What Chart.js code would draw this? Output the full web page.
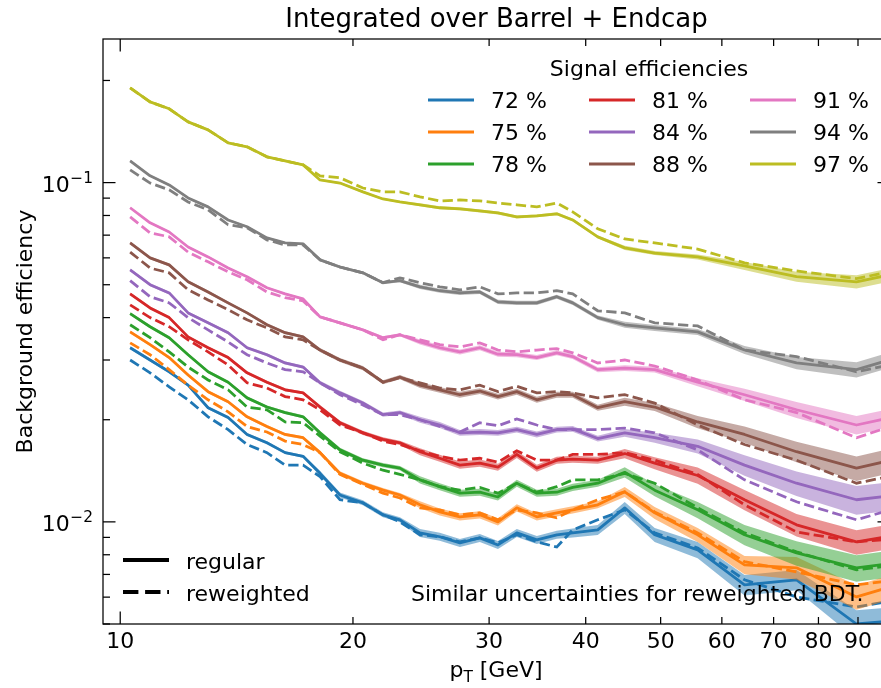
<!DOCTYPE html>
<html>
<head>
<meta charset="utf-8">
<script src="https://cdn.jsdelivr.net/npm/chart.js@4.4.1/dist/chart.umd.min.js"></script>
<style>
  html, body { margin: 0; padding: 0; overflow: hidden; background: #fff; }
  canvas { display: block; }
</style>
</head>
<body>
<canvas id="effChart" width="896" height="688"></canvas>
<script>
// pT bin centres [GeV]
const ptBins = [10.3, 10.93, 11.57, 12.24, 12.99, 13.79, 14.59, 15.48, 16.34, 17.24,
                18.13, 19.24, 20.6, 21.87, 23.0, 24.42, 25.9, 27.5, 29.18, 30.8,
                32.58, 34.58, 36.7, 38.48, 41.46, 44.93, 49.12, 55.83, 64.19, 74.94, 89.6, 103.3];

const effLabels = ['72 %', '75 %', '78 %', '81 %', '84 %', '88 %', '91 %', '94 %', '97 %'];
const effColors = ['#1f77b4', '#ff7f0e', '#2ca02c', '#d62728', '#9467bd', '#8c564b', '#e377c2', '#7f7f7f', '#bcbd22'];

// background efficiency, regular BDT (solid) and reweighted BDT (dashed)
const reg72 = [0.0326, 0.0300, 0.0277, 0.0253, 0.0217, 0.0203, 0.0181, 0.0171, 0.0160, 0.0156, 0.0139, 0.0120, 0.01138, 0.01049, 0.01014, 0.00928, 0.00904, 0.00867, 0.00897, 0.00855, 0.00928, 0.00885, 0.00916, 0.00928, 0.00947, 0.0110, 0.00916, 0.00827, 0.00652, 0.00675, 0.00500, 0.00514];
const rew72 = [0.0300, 0.0275, 0.0250, 0.0229, 0.0204, 0.0187, 0.0169, 0.0160, 0.0147, 0.0147, 0.0136, 0.01162, 0.01138, 0.01049, 0.0100, 0.00916, 0.00904, 0.00873, 0.00897, 0.00867, 0.00916, 0.00873, 0.00843, 0.00947, 0.01014, 0.01085, 0.00928, 0.00838, 0.00675, 0.00601, 0.00561, 0.00593];
const reg75 = [0.0363, 0.0333, 0.0305, 0.0271, 0.0242, 0.0226, 0.0204, 0.0191, 0.0181, 0.0177, 0.0160, 0.0139, 0.0130, 0.0124, 0.0120, 0.01123, 0.0107, 0.01035, 0.01049, 0.0100, 0.0110, 0.01035, 0.01063, 0.01085, 0.01123, 0.01226, 0.01063, 0.00916, 0.00747, 0.00732, 0.00601, 0.00661];
const rew75 = [0.0337, 0.0311, 0.0281, 0.0253, 0.0229, 0.0211, 0.0191, 0.0184, 0.0173, 0.0169, 0.0160, 0.0138, 0.0129, 0.01215, 0.01176, 0.0110, 0.01085, 0.01049, 0.01063, 0.01014, 0.01085, 0.01063, 0.01028, 0.01085, 0.01162, 0.01226, 0.0107, 0.00928, 0.00763, 0.00712, 0.00652, 0.00679];
const reg78 = [0.0411, 0.0376, 0.0349, 0.0311, 0.0277, 0.0258, 0.0232, 0.0218, 0.0210, 0.0204, 0.0183, 0.0163, 0.0152, 0.0147, 0.0144, 0.0133, 0.0127, 0.01215, 0.01223, 0.01184, 0.0130, 0.01215, 0.01223, 0.01264, 0.0130, 0.0140, 0.0124, 0.01085, 0.00916, 0.00810, 0.00732, 0.00763];
const rew78 = [0.0381, 0.0349, 0.0317, 0.0286, 0.0262, 0.0245, 0.0218, 0.0214, 0.0197, 0.0196, 0.0179, 0.0161, 0.0149, 0.0142, 0.0138, 0.0133, 0.0127, 0.0124, 0.01264, 0.01215, 0.0130, 0.01223, 0.0127, 0.0133, 0.0133, 0.0139, 0.0130, 0.0110, 0.00928, 0.00816, 0.00722, 0.00752];
const reg81 = [0.0470, 0.0427, 0.0400, 0.0351, 0.0326, 0.0305, 0.0275, 0.0258, 0.0245, 0.0240, 0.0218, 0.0196, 0.0183, 0.0175, 0.0171, 0.0161, 0.0154, 0.0147, 0.0149, 0.0145, 0.0158, 0.0144, 0.0152, 0.0153, 0.0152, 0.0159, 0.0149, 0.0137, 0.01162, 0.00980, 0.00873, 0.00922];
const rew81 = [0.0436, 0.0400, 0.0376, 0.0344, 0.0317, 0.0290, 0.0257, 0.0248, 0.0234, 0.0229, 0.0214, 0.0193, 0.0183, 0.0173, 0.0169, 0.0162, 0.0156, 0.0152, 0.0154, 0.0150, 0.0162, 0.0152, 0.0152, 0.0158, 0.0158, 0.0160, 0.0152, 0.0138, 0.01123, 0.00934, 0.00873, 0.00897];
const reg84 = [0.0553, 0.0500, 0.0473, 0.0413, 0.0386, 0.0361, 0.0326, 0.0311, 0.0294, 0.0286, 0.0257, 0.0240, 0.0224, 0.0207, 0.0210, 0.0200, 0.0193, 0.0183, 0.0184, 0.0183, 0.0187, 0.0181, 0.0187, 0.0188, 0.0176, 0.0183, 0.0177, 0.0167, 0.0147, 0.0130, 0.01162, 0.01207];
const rew84 = [0.0514, 0.0461, 0.0442, 0.0400, 0.0368, 0.0339, 0.0311, 0.0294, 0.0281, 0.0277, 0.0257, 0.0237, 0.0221, 0.0207, 0.0207, 0.0200, 0.0191, 0.0184, 0.0196, 0.0192, 0.0201, 0.0193, 0.0187, 0.0187, 0.0187, 0.0189, 0.0183, 0.0163, 0.0133, 0.01146, 0.01014, 0.01115];
const reg88 = [0.0664, 0.0600, 0.0572, 0.0510, 0.0476, 0.0442, 0.0413, 0.0381, 0.0361, 0.0351, 0.0321, 0.0300, 0.0284, 0.0258, 0.0267, 0.0253, 0.0245, 0.0237, 0.0243, 0.0234, 0.0242, 0.0229, 0.0237, 0.0237, 0.0217, 0.0226, 0.0218, 0.0197, 0.0181, 0.0161, 0.0144, 0.0155];
const rew88 = [0.0624, 0.0560, 0.0542, 0.0483, 0.0451, 0.0422, 0.0394, 0.0373, 0.0351, 0.0344, 0.0321, 0.0300, 0.0284, 0.0258, 0.0266, 0.0257, 0.0248, 0.0245, 0.0253, 0.0242, 0.0251, 0.0240, 0.0242, 0.0240, 0.0232, 0.0237, 0.0224, 0.0193, 0.0169, 0.0152, 0.0130, 0.0139];
const reg91 = [0.0843, 0.0761, 0.0715, 0.0646, 0.0604, 0.0560, 0.0528, 0.0490, 0.0470, 0.0454, 0.0402, 0.0386, 0.0368, 0.0349, 0.0356, 0.0339, 0.0326, 0.0317, 0.0326, 0.0312, 0.0311, 0.0305, 0.0315, 0.0307, 0.0281, 0.0284, 0.0281, 0.0258, 0.0237, 0.0214, 0.0193, 0.0207];
const rew91 = [0.0792, 0.0711, 0.0692, 0.0624, 0.0584, 0.0546, 0.0517, 0.0476, 0.0458, 0.0448, 0.0402, 0.0386, 0.0368, 0.0344, 0.0356, 0.0344, 0.0333, 0.0328, 0.0337, 0.0321, 0.0317, 0.0321, 0.0324, 0.0315, 0.0294, 0.0300, 0.0288, 0.0262, 0.0229, 0.0210, 0.0177, 0.0197];
const reg94 = [0.1159, 0.1047, 0.0984, 0.0901, 0.0848, 0.0776, 0.0741, 0.0687, 0.0664, 0.0660, 0.0592, 0.0564, 0.0542, 0.0507, 0.0514, 0.0493, 0.0480, 0.0473, 0.0476, 0.0445, 0.0442, 0.0442, 0.0461, 0.0442, 0.0400, 0.0381, 0.0373, 0.0363, 0.0321, 0.0294, 0.0281, 0.0309];
const rew94 = [0.1090, 0.0997, 0.0952, 0.0877, 0.0831, 0.0751, 0.0736, 0.0678, 0.0655, 0.0655, 0.0592, 0.0564, 0.0542, 0.0507, 0.0524, 0.0507, 0.0493, 0.0483, 0.0493, 0.0470, 0.0473, 0.0473, 0.0480, 0.0470, 0.0419, 0.0413, 0.0386, 0.0378, 0.0321, 0.0307, 0.0277, 0.0296];
const reg97 = [0.1902, 0.1729, 0.1650, 0.1510, 0.1430, 0.1310, 0.1275, 0.1191, 0.1159, 0.1128, 0.1018, 0.0997, 0.0939, 0.0895, 0.0877, 0.0860, 0.0843, 0.0837, 0.0825, 0.0814, 0.0792, 0.0798, 0.0809, 0.0776, 0.0692, 0.0642, 0.0620, 0.0604, 0.0568, 0.0528, 0.0510, 0.0546];
const rew97 = [0.1902, 0.1729, 0.1650, 0.1510, 0.1430, 0.1310, 0.1275, 0.1191, 0.1159, 0.1128, 0.1047, 0.1033, 0.0964, 0.0939, 0.0939, 0.0908, 0.0883, 0.0889, 0.0883, 0.0871, 0.0860, 0.0848, 0.0871, 0.0820, 0.0731, 0.0682, 0.0664, 0.0637, 0.0580, 0.0549, 0.0521, 0.0557];

// relative uncertainty of the regular BDT curves [%]
const err72 = [1.0, 1.0, 1.0, 1.0, 1.0, 1.0, 1.0, 1.0, 1.0, 1.0, 1.7, 1.7, 1.7, 1.7, 1.7, 2.7, 2.7, 2.7, 2.7, 2.7, 2.7, 2.7, 2.7, 3.1, 3.4, 4.1, 4.8, 5.5, 6.9, 6.9, 9.7, 9.7];
const err75 = [1.0, 1.0, 1.0, 1.0, 1.0, 1.0, 1.0, 1.0, 1.0, 1.0, 1.4, 1.4, 1.4, 1.4, 1.4, 2.4, 2.4, 2.4, 2.4, 2.4, 2.4, 2.4, 2.4, 2.4, 2.4, 3.4, 4.1, 4.8, 6.2, 7.6, 8.3, 8.3];
const err78 = [1.0, 1.0, 1.0, 1.0, 1.0, 1.0, 1.0, 1.0, 1.0, 1.0, 1.4, 1.4, 1.4, 1.4, 1.4, 2.4, 2.4, 2.4, 2.4, 2.4, 2.4, 2.4, 2.4, 2.4, 2.4, 3.4, 4.1, 5.5, 6.9, 8.3, 9.0, 9.0];
const err81 = [1.0, 1.0, 1.0, 1.0, 1.0, 1.0, 1.0, 1.0, 1.0, 1.0, 1.4, 1.4, 1.4, 1.4, 1.4, 2.4, 2.4, 2.4, 2.4, 2.4, 2.4, 2.4, 2.4, 2.4, 2.4, 3.1, 4.1, 5.5, 6.9, 7.6, 8.3, 8.3];
const err84 = [1.0, 1.0, 1.0, 1.0, 1.0, 1.0, 1.0, 1.0, 1.0, 1.0, 1.4, 1.4, 1.4, 1.4, 1.4, 2.0, 2.0, 2.0, 2.0, 2.0, 2.0, 2.0, 2.0, 2.0, 2.0, 2.7, 3.4, 4.8, 6.9, 8.3, 9.7, 9.7];
const err88 = [1.0, 1.0, 1.0, 1.0, 1.0, 1.0, 1.0, 1.0, 1.0, 1.0, 1.4, 1.4, 1.4, 1.4, 1.4, 2.0, 2.0, 2.0, 2.0, 2.0, 2.0, 2.0, 2.0, 2.0, 2.0, 2.7, 2.7, 4.1, 5.5, 6.9, 8.3, 8.3];
const err91 = [0.7, 0.7, 0.7, 0.7, 0.7, 0.7, 0.7, 0.7, 0.7, 0.7, 1.0, 1.0, 1.0, 1.0, 1.0, 1.7, 1.7, 1.7, 1.7, 1.7, 1.7, 1.7, 1.7, 1.7, 1.7, 2.0, 2.0, 2.7, 4.1, 5.5, 6.2, 6.2];
const err94 = [0.7, 0.7, 0.7, 0.7, 0.7, 0.7, 0.7, 0.7, 0.7, 0.7, 1.0, 1.0, 1.0, 1.0, 1.0, 1.4, 1.4, 1.4, 1.4, 1.4, 1.4, 1.4, 1.4, 1.4, 1.4, 2.0, 2.0, 2.0, 2.7, 4.1, 5.2, 5.2];
const err97 = [0.7, 0.7, 0.7, 0.7, 0.7, 0.7, 0.7, 0.7, 0.7, 0.7, 0.7, 0.7, 0.7, 0.7, 0.7, 1.0, 1.0, 1.0, 1.0, 1.0, 1.0, 1.0, 1.0, 1.0, 1.0, 1.4, 1.4, 1.7, 2.7, 3.4, 4.5, 4.5];

// axis ticks
const xTickVals = [10, 20, 30, 40, 50, 60, 70, 80, 90];
const xTickText = ['10', '20', '30', '40', '50', '60', '70', '80', '90'];
const yMajorVals = [0.01, 0.1];
const yMajorExp = ['\u22122', '\u22121'];

const X_MIN = 9.5, X_MAX = 99;
const Y_MIN = 0.005, Y_MAX = 0.265;

const FONT = '"DejaVu Sans", sans-serif';
const LW = 2.78;
const DASH = [10.3, 4.4];

const regular = [reg72, reg75, reg78, reg81, reg84, reg88, reg91, reg94, reg97];
const reweighted = [rew72, rew75, rew78, rew81, rew84, rew88, rew91, rew94, rew97];
const uncert = [err72, err75, err78, err81, err84, err88, err91, err94, err97];

function hexToRgba(hex, a) {
    const n = parseInt(hex.slice(1), 16);
    return `rgba(${(n >> 16) & 255}, ${(n >> 8) & 255}, ${n & 255}, ${a})`;
}

function toPoints(vals) {
    return ptBins.map((x, j) => ({ x: x, y: vals[j] }));
}

// build band + solid + dashed for each signal efficiency
const datasets = [];
regular.forEach((reg, k) => {
    const col = effColors[k];
    const err = uncert[k];
    const upIdx = datasets.length;
    datasets.push({
        data: toPoints(reg.map((v, j) => v * (1 + err[j] / 100))),
        borderColor: 'rgba(0,0,0,0)', borderWidth: 0, pointRadius: 0, fill: false
    });
    datasets.push({
        data: toPoints(reg.map((v, j) => v * (1 - err[j] / 100))),
        borderColor: 'rgba(0,0,0,0)', borderWidth: 0, pointRadius: 0,
        fill: upIdx, backgroundColor: hexToRgba(col, 0.5)
    });
    datasets.push({
        data: toPoints(reg),
        borderColor: col, borderWidth: LW, pointRadius: 0, fill: false,
        borderJoinStyle: 'round'
    });
    datasets.push({
        data: toPoints(reweighted[k]),
        borderColor: col, borderWidth: LW, pointRadius: 0, fill: false,
        borderDash: DASH
    });
});
// later datasets are drawn on top
datasets.forEach((d, i) => { d.order = -i; d.clip = 0; d.tension = 0; });

// frame, inward ticks, labels and legends
const decorPlugin = {
    id: 'decor',
    afterDraw(chart) {
        const ctx = chart.ctx;
        const a = chart.chartArea;
        const xs = chart.scales.x, ys = chart.scales.y;
        ctx.save();
        ctx.strokeStyle = '#000';
        ctx.fillStyle = '#000';
        ctx.lineWidth = 1.25;
        ctx.strokeRect(a.left, a.top, a.right - a.left, a.bottom - a.top);

        const seg = (x1, y1, x2, y2) => {
            ctx.beginPath(); ctx.moveTo(x1, y1); ctx.lineTo(x2, y2); ctx.stroke();
        };

        // x ticks, bottom and top
        ctx.font = '22px ' + FONT;
        ctx.textAlign = 'center';
        ctx.textBaseline = 'alphabetic';
        xTickVals.forEach((v, i) => {
            const px = xs.getPixelForValue(v);
            const len = v === 10 ? 12.5 : 7;
            seg(px, a.bottom, px, a.bottom - len);
            seg(px, a.top, px, a.top + len);
            ctx.fillText(xTickText[i], px, 648);
        });

        // y ticks, left and right
        for (let d = 0.001; d < 1; d *= 10) {
            for (let m = 2; m <= 9; m++) {
                const v = m * d;
                if (v < Y_MIN || v > Y_MAX) continue;
                const py = ys.getPixelForValue(v);
                seg(a.left, py, a.left + 7, py);
                seg(a.right, py, a.right - 7, py);
            }
        }
        yMajorVals.forEach((v, i) => {
            const py = ys.getPixelForValue(v);
            seg(a.left, py, a.left + 12.5, py);
            seg(a.right, py, a.right - 12.5, py);
            ctx.textAlign = 'right';
            ctx.font = '15.4px ' + FONT;
            const ew = ctx.measureText(yMajorExp[i]).width;
            ctx.fillText(yMajorExp[i], 93, py + 0.5);
            ctx.font = '22px ' + FONT;
            ctx.fillText('10', 93 - ew - 0.5, py + 9.5);
        });

        // title
        ctx.textAlign = 'center';
        ctx.font = '26px ' + FONT;
        ctx.fillText('Integrated over Barrel + Endcap', (a.left + a.right) / 2, 27);

        // x label: p_T [GeV]
        ctx.font = '22px ' + FONT;
        const wP = ctx.measureText('p').width;
        const wRest = ctx.measureText(' [GeV]').width;
        ctx.font = '15.4px ' + FONT;
        const wT = ctx.measureText('T').width;
        let lx = 496 - (wP + wT + wRest) / 2;
        ctx.textAlign = 'left';
        ctx.font = '22px ' + FONT;
        ctx.fillText('p', lx, 677);
        ctx.font = '15.4px ' + FONT;
        ctx.fillText('T', lx + wP, 682);
        ctx.font = '22px ' + FONT;
        ctx.fillText(' [GeV]', lx + wP + wT, 677);

        // y label
        ctx.save();
        ctx.translate(31.5, (a.top + a.bottom) / 2);
        ctx.rotate(-Math.PI / 2);
        ctx.textAlign = 'center';
        ctx.fillText('Background efficiency', 0, 0);
        ctx.restore();

        // signal efficiency legend
        ctx.textAlign = 'center';
        ctx.fillText('Signal efficiencies', 649, 76);
        const colHandle = [428, 589, 750];
        const rowY = [100, 132, 164];
        ctx.textAlign = 'left';
        ctx.lineWidth = LW;
        ctx.lineCap = 'butt';
        effLabels.forEach((lab, k) => {
            const c = Math.floor(k / 3), r = k % 3;
            ctx.strokeStyle = effColors[k];
            seg(colHandle[c], rowY[r], colHandle[c] + 46, rowY[r]);
            ctx.fillText(lab, colHandle[c] + 63, rowY[r] + 8.3);
        });

        // line style legend
        ctx.strokeStyle = '#000';
        ctx.lineWidth = 4.2;
        seg(123, 560, 169, 560);
        ctx.setLineDash([15.4, 6.7]);
        seg(123, 592, 169, 592);
        ctx.setLineDash([]);
        ctx.fillText('regular', 186, 568.5);
        ctx.fillText('reweighted', 186, 600.5);

        // note
        ctx.fillText('Similar uncertainties for reweighted BDT.', 411, 601);
        ctx.restore();
    }
};

new Chart(document.getElementById('effChart').getContext('2d'), {
    type: 'line',
    data: { datasets: datasets },
    options: {
        responsive: false,
        animation: false,
        events: [],
        devicePixelRatio: 1,
        layout: { padding: { left: 103, top: 39, right: 6, bottom: 64 } },
        scales: {
            x: {
                type: 'logarithmic', min: X_MIN, max: X_MAX,
                ticks: { display: false },
                grid: { display: false, drawTicks: false },
                border: { display: false },
                afterFit: (s) => { s.height = 0; }
            },
            y: {
                type: 'logarithmic', min: Y_MIN, max: Y_MAX,
                ticks: { display: false },
                grid: { display: false, drawTicks: false },
                border: { display: false },
                afterFit: (s) => { s.width = 0; }
            }
        },
        plugins: {
            legend: { display: false },
            tooltip: { enabled: false },
            filler: { propagate: false }
        }
    },
    plugins: [decorPlugin]
});
</script>
</body>
</html>
